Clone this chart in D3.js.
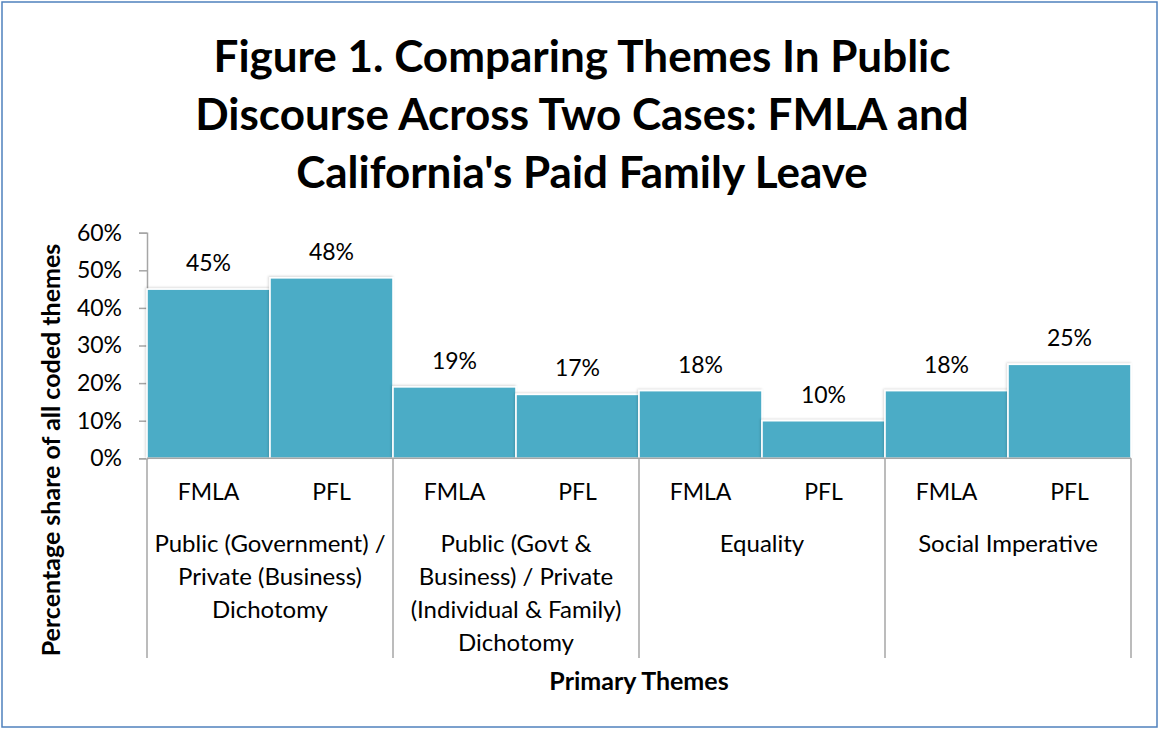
<!DOCTYPE html>
<html><head><meta charset="utf-8">
<script src="https://cdn.jsdelivr.net/npm/d3@7"></script>
<style>
html,body{margin:0;padding:0;background:#fff;}
text{font-family:Lato,"Open Sans",sans-serif;fill:#000;}
</style></head>
<body>
<svg id="chart" width="1160" height="729"></svg>
<script>
const titleLines = ["Figure 1. Comparing Themes In Public", "Discourse Across Two Cases: FMLA and", "California's Paid Family Leave"];
const themes = [
  ["Public (Government) /", "Private (Business)", "Dichotomy"],
  ["Public (Govt &", "Business) / Private", "(Individual & Family)", "Dichotomy"],
  ["Equality"],
  ["Social Imperative"]
];
const cases = ["FMLA", "PFL"];
const values = [45, 48, 19, 17, 18, 10, 18, 25];
const yTicks = [0, 10, 20, 30, 40, 50, 60];
const yTitle = "Percentage share of all coded themes";
const xTitle = "Primary Themes";

const svg = d3.select("#chart");
svg.append("rect").attr("x", 2).attr("y", 2).attr("width", 1155).attr("height", 725)
  .attr("fill", "#fff").attr("stroke", "#4f81bd").attr("stroke-width", 1.5);

const defs = svg.append("defs");
const f = defs.append("filter").attr("id", "sh").attr("x", "-10%").attr("y", "-10%").attr("width", "120%").attr("height", "120%");
f.append("feDropShadow").attr("dx", -1).attr("dy", -1).attr("stdDeviation", 1).attr("flood-color", "#000").attr("flood-opacity", 0.15);

const x0 = 147, x1 = 1131, yTop = 232.7, yBot = 458.3, catBottom = 658;

// title
svg.append("g").selectAll("text").data(titleLines).join("text")
  .attr("x", 582).attr("y", (d, i) => 72 + i * 58)
  .attr("text-anchor", "middle").attr("font-weight", "bold").attr("font-size", 44)
  .text(d => d);

const keys = [];
themes.forEach((t, i) => cases.forEach((c, j) => keys.push(i + "-" + j)));
const xThemes = d3.scaleBand().domain(themes.map((d, i) => i)).range([x0, x1]);
const x = d3.scaleBand().domain(keys).range([x0, x1]);
const y = d3.scaleLinear().domain([0, 60]).range([yBot, yTop]);

// y axis
const yAxis = svg.append("g").attr("transform", `translate(${x0},0)`)
  .call(d3.axisLeft(y).tickValues(yTicks).tickFormat(d => d + "%").tickSize(8).tickPadding(17));
yAxis.select(".domain").attr("stroke", "#a6a6a6").attr("stroke-width", 1.5);
yAxis.selectAll(".tick line").attr("stroke", "#a6a6a6").attr("stroke-width", 1.5);
yAxis.selectAll(".tick text").attr("font-size", 23).attr("font-family", "Lato").attr("fill", "#000");

// bars
svg.append("g").selectAll("rect").data(values).join("rect")
  .attr("x", (d, i) => x(keys[i]))
  .attr("y", d => y(d))
  .attr("width", x.bandwidth())
  .attr("height", d => yBot - y(d))
  .attr("fill", "#4bacc6").attr("stroke", "#fff").attr("stroke-width", 1.6)
  .attr("filter", "url(#sh)");

// data labels
svg.append("g").selectAll("text").data(values).join("text")
  .attr("x", (d, i) => x(keys[i]) + x.bandwidth() / 2)
  .attr("y", d => y(d) - 18)
  .attr("text-anchor", "middle").attr("font-size", 23)
  .text(d => d + "%");

// x baseline
svg.append("line").attr("x1", x0).attr("x2", x1).attr("y1", yBot).attr("y2", yBot)
  .attr("stroke", "#a6a6a6").attr("stroke-width", 1.5);

// category separators
const seps = xThemes.domain().map(d => xThemes(d)).concat([x1]);
svg.append("g").selectAll("line").data(seps).join("line")
  .attr("x1", d => d).attr("x2", d => d).attr("y1", yBot).attr("y2", catBottom)
  .attr("stroke", "#a6a6a6").attr("stroke-width", 1.5);

// case labels
svg.append("g").selectAll("text").data(keys).join("text")
  .attr("x", d => x(d) + x.bandwidth() / 2).attr("y", 500)
  .attr("text-anchor", "middle").attr("font-size", 23)
  .text(d => cases[+d.split("-")[1]]);

// theme labels
const tg = svg.append("g").selectAll("g").data(themes).join("g");
tg.selectAll("text").data((d, i) => d.map(l => ({l, i}))).join("text")
  .attr("x", d => xThemes(d.i) + xThemes.bandwidth() / 2)
  .attr("y", (d, k) => 552 + k * 33)
  .attr("text-anchor", "middle").attr("font-size", 24)
  .text(d => d.l);

// axis titles
svg.append("text").attr("transform", "translate(60,450) rotate(-90)")
  .attr("text-anchor", "middle").attr("font-weight", "bold").attr("font-size", 25)
  .text(yTitle);
svg.append("text").attr("x", 639).attr("y", 690)
  .attr("text-anchor", "middle").attr("font-weight", "bold").attr("font-size", 25)
  .text(xTitle);
</script>
</body></html>
